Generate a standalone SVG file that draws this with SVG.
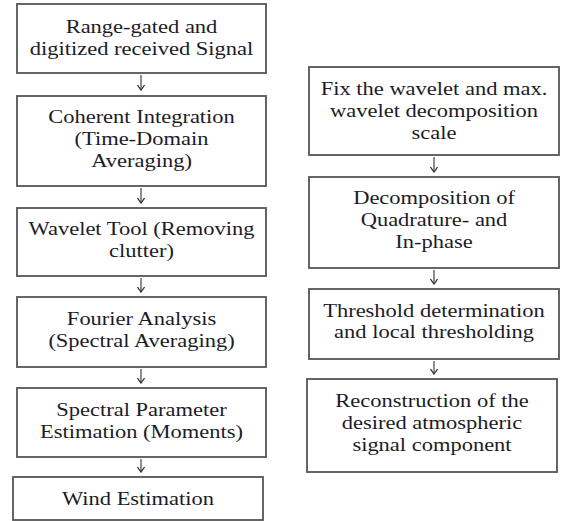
<svg xmlns="http://www.w3.org/2000/svg" width="562" height="521" viewBox="0 0 562 521">
<defs>
<marker id="ah" markerWidth="7" markerHeight="8" refX="6" refY="4" orient="auto" markerUnits="userSpaceOnUse" viewBox="0 0 7 8">
<path d="M1,0.5 L6,4 L1,7.5" fill="none" stroke="#333" stroke-width="1.3"/>
</marker>
<style>
.box{fill:#fff;stroke:#555;stroke-width:1.8}
.t{font-family:'Liberation Serif','DejaVu Serif','Times New Roman',serif;font-size:18px;fill:#1c1c28;text-anchor:middle}
.c{stroke:#444;stroke-width:1.2;fill:none;marker-end:url(#ah)}
</style>
</defs>
<rect width="562" height="521" fill="#fff"/>
<g id="connectors">
<line class="c" x1="141" y1="75" x2="141" y2="90"/>
<line class="c" x1="141" y1="188" x2="141" y2="203"/>
<line class="c" x1="141" y1="278" x2="141" y2="292"/>
<line class="c" x1="141" y1="369" x2="141" y2="383"/>
<line class="c" x1="141" y1="459" x2="141" y2="472"/>
<line class="c" x1="434" y1="157" x2="434" y2="172"/>
<line class="c" x1="434" y1="270" x2="434" y2="284"/>
<line class="c" x1="434" y1="361" x2="434" y2="374"/>
</g>
<g id="n1"><rect class="box" x="17" y="4" width="249" height="69"/>
<text class="t" font-family="Liberation Serif, serif" transform="translate(141.5,0) scale(1.25,1)"><tspan x="0" y="33">Range-gated and</tspan><tspan x="0" y="55">digitized received Signal</tspan></text></g>
<g id="n2"><rect class="box" x="17" y="96" width="249" height="90"/>
<text class="t" font-family="Liberation Serif, serif" transform="translate(141.5,0) scale(1.25,1)"><tspan x="0" y="123">Coherent Integration</tspan><tspan x="0" y="145">(Time-Domain</tspan><tspan x="0" y="167">Averaging)</tspan></text></g>
<g id="n3"><rect class="box" x="17" y="208" width="249" height="68"/>
<text class="t" font-family="Liberation Serif, serif" transform="translate(141.5,0) scale(1.25,1)"><tspan x="0" y="235">Wavelet Tool (Removing</tspan><tspan x="0" y="257">clutter)</tspan></text></g>
<g id="n4"><rect class="box" x="17" y="297" width="249" height="70"/>
<text class="t" font-family="Liberation Serif, serif" transform="translate(141.5,0) scale(1.25,1)"><tspan x="0" y="325">Fourier Analysis</tspan><tspan x="0" y="347">(Spectral Averaging)</tspan></text></g>
<g id="n5"><rect class="box" x="17" y="388" width="249" height="69"/>
<text class="t" font-family="Liberation Serif, serif" transform="translate(141.5,0) scale(1.25,1)"><tspan x="0" y="416">Spectral Parameter</tspan><tspan x="0" y="438">Estimation (Moments)</tspan></text></g>
<g id="n6"><rect class="box" x="13" y="477" width="250" height="43"/>
<text class="t" font-family="Liberation Serif, serif" transform="translate(138,0) scale(1.25,1)"><tspan x="0" y="505">Wind Estimation</tspan></text></g>
<g id="r1"><rect class="box" x="309" y="67" width="250" height="88"/>
<text class="t" font-family="Liberation Serif, serif" transform="translate(434,0) scale(1.25,1)"><tspan x="0" y="95">Fix the wavelet and max.</tspan><tspan x="0" y="117">wavelet decomposition</tspan><tspan x="0" y="139">scale</tspan></text></g>
<g id="r2"><rect class="box" x="309" y="177" width="250" height="91"/>
<text class="t" font-family="Liberation Serif, serif" transform="translate(434,0) scale(1.25,1)"><tspan x="0" y="204">Decomposition of</tspan><tspan x="0" y="226">Quadrature- and</tspan><tspan x="0" y="248">In-phase</tspan></text></g>
<g id="r3"><rect class="box" x="309" y="289" width="250" height="70"/>
<text class="t" font-family="Liberation Serif, serif" transform="translate(434,0) scale(1.25,1)"><tspan x="0" y="317">Threshold determination</tspan><tspan x="0" y="338">and local thresholding</tspan></text></g>
<g id="r4"><rect class="box" x="307" y="379" width="250" height="93"/>
<text class="t" font-family="Liberation Serif, serif" transform="translate(432,0) scale(1.25,1)"><tspan x="0" y="407">Reconstruction of the</tspan><tspan x="0" y="429">desired atmospheric</tspan><tspan x="0" y="451">signal component</tspan></text></g>
</svg>
